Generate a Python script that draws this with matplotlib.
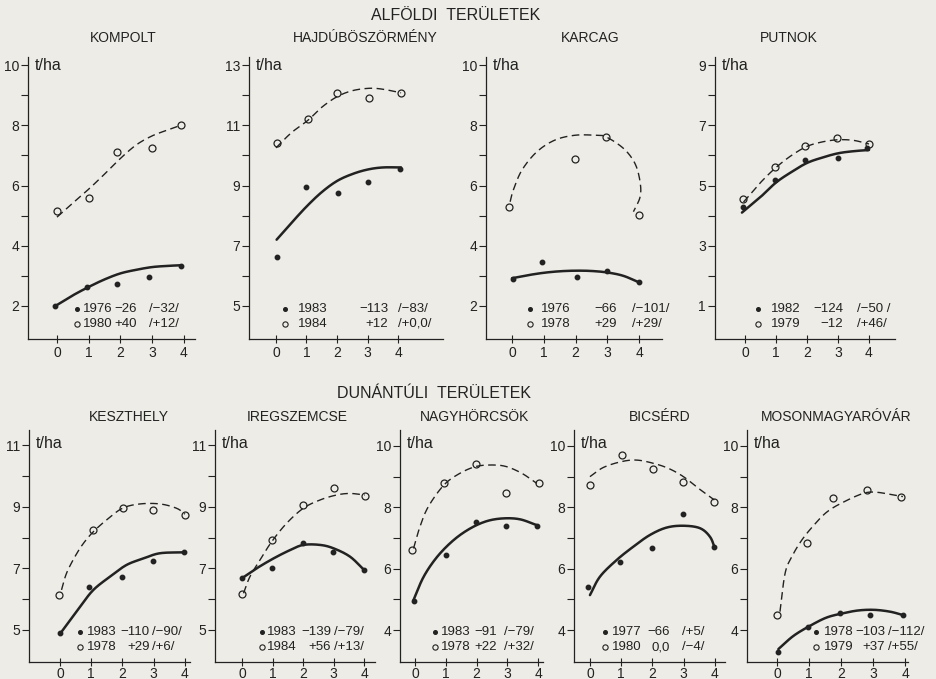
import numpy as np
import matplotlib
matplotlib.use("Agg")
import matplotlib.pyplot as plt

plt.rcParams['font.family'] = ['Liberation Sans', 'DejaVu Sans']

BG = '#edece6'
INK = '#222222'

# ------------------------------------------------------------------ data
section_titles = ["ALFÖLDI  TERÜLETEK", "DUNÁNTÚLI  TERÜLETEK"]
site_names = ["KOMPOLT", "HAJDÚBÖSZÖRMÉNY", "KARCAG", "PUTNOK",
              "KESZTHELY", "IREGSZEMCSE", "NAGYHÖRCSÖK", "BICSÉRD", "MOSONMAGYARÓVÁR"]
x_ticks = [0, 1, 2, 3, 4]
unit_label = "t/ha"

# y tick labels per site (labelled) and unlabelled ticks
yticks_major = {
    "KOMPOLT": [2, 4, 6, 8, 10], "HAJDÚBÖSZÖRMÉNY": [5, 7, 9, 11, 13],
    "KARCAG": [2, 4, 6, 8, 10], "PUTNOK": [1, 3, 5, 7, 9],
    "KESZTHELY": [5, 7, 9, 11], "IREGSZEMCSE": [5, 7, 9, 11],
    "NAGYHÖRCSÖK": [4, 6, 8, 10], "BICSÉRD": [4, 6, 8, 10], "MOSONMAGYARÓVÁR": [4, 6, 8, 10]}
yticks_minor = {
    "KOMPOLT": [3, 5, 7, 9], "HAJDÚBÖSZÖRMÉNY": [6, 8, 10, 12],
    "KARCAG": [3, 5, 7, 9], "PUTNOK": [2, 4, 6, 8],
    "KESZTHELY": [6, 8, 10], "IREGSZEMCSE": [6, 8, 10],
    "NAGYHÖRCSÖK": [5, 7, 9], "BICSÉRD": [5, 7, 9], "MOSONMAGYARÓVÁR": [5, 7, 9]}

# legend texts: (year, value, bracket) for filled (row 1) and open (row 2) series
kompolt_legend = [("1976", "−26", "/−32/"), ("1980", "+40", "/+12/")]
hajdu_legend = [("1983", "−113", "/−83/"), ("1984", "+12", "/+0,0/")]
karcag_legend = [("1976", "−66", "/−101/"), ("1978", "+29", "/+29/")]
putnok_legend = [("1982", "−124", "/−50 /"), ("1979", "−12", "/+46/")]
keszthely_legend = [("1983", "−110", "/−90/"), ("1978", "+29", "/+6/")]
ireg_legend = [("1983", "−139", "/−79/"), ("1984", "+56", "/+13/")]
nagy_legend = [("1983", "−91", "/−79/"), ("1978", "+22", "/+32/")]
bicserd_legend = [("1977", "−66", "/+5/"), ("1980", "0,0", "/−4/")]
moson_legend = [("1978", "−103", "/−112/"), ("1979", "+37", "/+55/")]

# KOMPOLT
kompolt_dot_x = [-0.05, 0.95, 1.9, 2.9, 3.9]
kompolt_dot_y = [2.0, 2.63, 2.73, 2.97, 3.33]
kompolt_circ_x = [0, 1.0, 1.9, 3.0, 3.9]
kompolt_circ_y = [5.15, 5.6, 7.1, 7.23, 8.0]
kompolt_solid_x = [0, 0.5, 1, 1.5, 2, 2.5, 3, 3.5, 3.9]
kompolt_solid_y = [2.03, 2.35, 2.63, 2.88, 3.08, 3.2, 3.29, 3.33, 3.35]
kompolt_dash_x = [0, 0.5, 1, 1.5, 2, 2.5, 3, 3.5, 3.9]
kompolt_dash_y = [4.95, 5.42, 5.88, 6.38, 6.9, 7.35, 7.65, 7.85, 8.0]

# HAJDÚBÖSZÖRMÉNY
hajdu_dot_x = [0.03, 1.0, 2.03, 3.0, 4.07]
hajdu_dot_y = [6.62, 8.95, 8.75, 9.11, 9.54]
hajdu_circ_x = [0.03, 1.05, 2.0, 3.05, 4.1]
hajdu_circ_y = [10.41, 11.21, 12.07, 11.9, 12.07]
hajdu_solid_x = [0.02, 0.5, 1.0, 1.5, 2.0, 2.5, 3.0, 3.5, 4.1]
hajdu_solid_y = [7.2, 7.75, 8.3, 8.78, 9.15, 9.38, 9.53, 9.6, 9.6]
hajdu_dash_x = [0, 0.5, 1.05, 1.5, 2.0, 2.5, 3.05, 3.5, 4.1]
hajdu_dash_y = [10.25, 10.75, 11.17, 11.6, 11.95, 12.15, 12.23, 12.2, 12.08]

# KARCAG
karcag_dot_x = [0.04, 0.94, 2.05, 2.99, 4.0]
karcag_dot_y = [2.91, 3.46, 2.96, 3.16, 2.79]
karcag_circ_x = [-0.1, 1.98, 2.96, 4.0]
karcag_circ_y = [5.27, 6.89, 7.62, 5.02]
karcag_solid_x = [0, 0.5, 1, 1.5, 2, 2.5, 3, 3.5, 4.0]
karcag_solid_y = [2.92, 3.02, 3.1, 3.15, 3.17, 3.16, 3.11, 3.0, 2.78]
karcag_dash_x = [-0.06, 0.04, 0.31, 0.78, 1.35, 1.98, 2.61, 2.95, 3.51, 3.87, 4.03, 4.03, 3.82]
karcag_dash_y = [5.46, 5.85, 6.51, 7.12, 7.51, 7.67, 7.67, 7.62, 7.23, 6.73, 6.12, 5.62, 5.13]

# PUTNOK
putnok_dot_x = [-0.06, 0.97, 1.94, 3.0, 3.94]
putnok_dot_y = [4.29, 5.18, 5.84, 5.9, 6.25]
putnok_circ_x = [-0.06, 0.97, 1.94, 2.97, 4.0]
putnok_circ_y = [4.55, 5.62, 6.32, 6.58, 6.38]
putnok_solid_x = [-0.1, 0.5, 1, 1.5, 2, 2.5, 3, 3.5, 4.0]
putnok_solid_y = [4.1, 4.62, 5.1, 5.45, 5.75, 5.93, 6.07, 6.14, 6.18]
putnok_dash_x = [-0.05, 0.5, 1, 1.5, 2, 2.5, 3, 3.5, 4.0]
putnok_dash_y = [4.45, 5.1, 5.6, 6.0, 6.3, 6.45, 6.52, 6.5, 6.38]

# KESZTHELY
keszthely_dot_x = [0, 0.93, 1.98, 2.98, 3.97]
keszthely_dot_y = [4.9, 6.4, 6.72, 7.24, 7.53]
keszthely_circ_x = [-0.03, 1.06, 2.02, 2.98, 4.0]
keszthely_circ_y = [6.13, 8.24, 8.96, 8.89, 8.73]
keszthely_solid_x = [0.05, 0.64, 1.07, 1.6, 2.13, 2.67, 3.2, 3.98]
keszthely_solid_y = [4.94, 5.75, 6.3, 6.73, 7.11, 7.32, 7.49, 7.52]
keszthely_dash_x = [0.05, 0.21, 0.48, 0.75, 1.07, 1.49, 2.0, 2.56, 3.2, 3.73, 4.0]
keszthely_dash_y = [6.3, 6.84, 7.38, 7.81, 8.19, 8.57, 8.95, 9.09, 9.09, 8.95, 8.76]

# IREGSZEMCSE
ireg_dot_x = [0, 0.97, 2.0, 2.97, 4.0]
ireg_dot_y = [6.68, 7.0, 7.81, 7.52, 6.95]
ireg_circ_x = [0, 0.97, 2.0, 3.0, 4.03]
ireg_circ_y = [6.16, 7.92, 9.05, 9.6, 9.36]
ireg_solid_x = [0, 0.48, 1.03, 1.57, 2.01, 2.56, 3.0, 3.54, 4.0]
ireg_solid_y = [6.68, 7.0, 7.32, 7.59, 7.76, 7.76, 7.65, 7.38, 6.95]
ireg_dash_x = [0.05, 0.26, 0.59, 0.97, 1.46, 2.01, 2.56, 3.1, 3.54, 4.03]
ireg_dash_y = [6.19, 6.73, 7.27, 7.86, 8.46, 8.95, 9.22, 9.38, 9.43, 9.38]

# NAGYHÖRCSÖK
nagy_dot_x = [-0.05, 1.0, 1.98, 2.96, 3.96]
nagy_dot_y = [4.95, 6.45, 7.53, 7.4, 7.4]
nagy_circ_x = [-0.1, 0.94, 1.98, 2.96, 4.04]
nagy_circ_y = [6.61, 8.8, 9.41, 8.46, 8.78]
nagy_solid_x = [-0.05, 0.28, 0.72, 1.25, 1.79, 2.33, 2.87, 3.41, 3.96]
nagy_solid_y = [4.98, 5.74, 6.39, 6.93, 7.31, 7.55, 7.64, 7.61, 7.42]
nagy_dash_x = [-0.05, 0.16, 0.43, 0.94, 1.46, 1.98, 2.49, 2.96, 3.47, 3.96]
nagy_dash_y = [6.66, 7.37, 8.02, 8.73, 9.11, 9.33, 9.38, 9.33, 9.11, 8.78]

# BICSÉRD
bicserd_dot_x = [-0.05, 0.96, 1.97, 2.99, 3.98]
bicserd_dot_y = [5.41, 6.23, 6.66, 7.78, 6.7]
bicserd_circ_x = [0, 1.01, 2.01, 2.99, 3.98]
bicserd_circ_y = [8.73, 9.71, 9.24, 8.84, 8.18]
bicserd_solid_x = [0, 0.32, 0.85, 1.39, 1.92, 2.45, 2.99, 3.52, 3.84, 4.0]
bicserd_solid_y = [5.14, 5.74, 6.28, 6.72, 7.1, 7.34, 7.4, 7.32, 7.04, 6.66]
bicserd_dash_x = [0, 0.43, 1.01, 1.49, 2.01, 2.51, 2.99, 3.47, 3.98]
bicserd_dash_y = [9.0, 9.3, 9.49, 9.54, 9.44, 9.27, 9.0, 8.62, 8.24]

# MOSONMAGYARÓVÁR
moson_dot_x = [0.04, 0.98, 1.97, 2.91, 3.93]
moson_dot_y = [3.29, 4.11, 4.55, 4.49, 4.49]
moson_circ_x = [0, 0.95, 1.76, 2.82, 3.87]
moson_circ_y = [4.49, 6.83, 8.29, 8.57, 8.35]
moson_solid_x = [0.04, 0.51, 1.03, 1.55, 2.07, 2.54, 3.03, 3.53, 3.93]
moson_solid_y = [3.38, 3.81, 4.14, 4.41, 4.55, 4.64, 4.66, 4.6, 4.49]
moson_dash_x = [0.09, 0.25, 0.46, 0.77, 1.15, 1.57, 2.09, 2.71, 3.12, 3.64, 3.93]
moson_dash_y = [4.6, 5.85, 6.39, 6.93, 7.42, 7.86, 8.18, 8.46, 8.49, 8.4, 8.35]

series = {
    "KOMPOLT": (kompolt_dot_x, kompolt_dot_y, kompolt_circ_x, kompolt_circ_y,
                kompolt_solid_x, kompolt_solid_y, kompolt_dash_x, kompolt_dash_y, kompolt_legend),
    "HAJDÚBÖSZÖRMÉNY": (hajdu_dot_x, hajdu_dot_y, hajdu_circ_x, hajdu_circ_y,
                        hajdu_solid_x, hajdu_solid_y, hajdu_dash_x, hajdu_dash_y, hajdu_legend),
    "KARCAG": (karcag_dot_x, karcag_dot_y, karcag_circ_x, karcag_circ_y,
               karcag_solid_x, karcag_solid_y, karcag_dash_x, karcag_dash_y, karcag_legend),
    "PUTNOK": (putnok_dot_x, putnok_dot_y, putnok_circ_x, putnok_circ_y,
               putnok_solid_x, putnok_solid_y, putnok_dash_x, putnok_dash_y, putnok_legend),
    "KESZTHELY": (keszthely_dot_x, keszthely_dot_y, keszthely_circ_x, keszthely_circ_y,
                  keszthely_solid_x, keszthely_solid_y, keszthely_dash_x, keszthely_dash_y, keszthely_legend),
    "IREGSZEMCSE": (ireg_dot_x, ireg_dot_y, ireg_circ_x, ireg_circ_y,
                    ireg_solid_x, ireg_solid_y, ireg_dash_x, ireg_dash_y, ireg_legend),
    "NAGYHÖRCSÖK": (nagy_dot_x, nagy_dot_y, nagy_circ_x, nagy_circ_y,
                    nagy_solid_x, nagy_solid_y, nagy_dash_x, nagy_dash_y, nagy_legend),
    "BICSÉRD": (bicserd_dot_x, bicserd_dot_y, bicserd_circ_x, bicserd_circ_y,
                bicserd_solid_x, bicserd_solid_y, bicserd_dash_x, bicserd_dash_y, bicserd_legend),
    "MOSONMAGYARÓVÁR": (moson_dot_x, moson_dot_y, moson_circ_x, moson_circ_y,
                        moson_solid_x, moson_solid_y, moson_dash_x, moson_dash_y, moson_legend),
}

# ------------------------------------------------------------------ layout (pixels)
W, H = 937, 679
# name: (left, right, top, bottom, xlim, ylim, title_x,
#        legend cols (bullet centre, year left, value right, bracket left))
layout = {
    "KOMPOLT": (28, 195, 57, 339, (-0.913, 4.35), (0.9, 10.27), 123, (77, 83, 137, 149)),
    "HAJDÚBÖSZÖRMÉNY": (249, 443, 57, 339, (-0.885, 5.475), (3.9, 13.27), 365, (285, 298, 388, 398)),
    "KARCAG": (486, 662, 57, 339, (-0.82, 4.72), (0.9, 10.27), 590, (530, 541, 617, 632)),
    "PUTNOK": (715, 895, 57, 339, (-0.97, 4.84), (-0.1, 9.27), 789, (758, 771, 843, 857)),
    "KESZTHELY": (29, 190, 430, 662, (-0.99, 4.16), (3.96, 11.49), 129, (80, 87, 150, 152)),
    "IREGSZEMCSE": (215, 375, 430, 662, (-0.885, 4.36), (3.96, 11.49), 297, (262, 267, 331, 334)),
    "NAGYHÖRCSÖK": (400, 543, 430, 662, (-0.49, 4.16), (2.96, 10.52), 475, (435, 441, 497, 504)),
    "BICSÉRD": (574, 725, 430, 662, (-0.51, 4.32), (2.96, 10.52), 660, (605, 612, 670, 682)),
    "MOSONMAGYARÓVÁR": (747, 908, 430, 662, (-0.94, 4.09), (2.96, 10.52), 836, (816, 824, 885, 888)),
}


def smooth(xs, ys, n=20):
    P = np.column_stack([xs, ys]).astype(float)
    P = np.vstack([2 * P[0] - P[1], P, 2 * P[-1] - P[-2]])
    t = np.linspace(0, 1, n, endpoint=False)[:, None]
    out = []
    for i in range(1, len(P) - 2):
        p0, p1, p2, p3 = P[i - 1], P[i], P[i + 1], P[i + 2]
        seg = 0.5 * ((2 * p1) + (-p0 + p2) * t + (2 * p0 - 5 * p1 + 4 * p2 - p3) * t ** 2
                     + (-p0 + 3 * p1 - 3 * p2 + p3) * t ** 3)
        out.append(seg)
    out.append(P[-2][None, :])
    A = np.vstack(out)
    return A[:, 0], A[:, 1]


fig = plt.figure(figsize=(W / 100, H / 100), dpi=100, facecolor=BG)

fig.text(456 / W, 1 - 15 / H, section_titles[0], ha='center', va='center',
         fontsize=11.5, color=INK)
fig.text(434 / W, 1 - 393 / H, section_titles[1], ha='center', va='center',
         fontsize=11.5, color=INK)

for name in site_names:
    l, r, t, b, xl, yl, tx, cols = layout[name]
    dx, dy, cx, cy, sx, sy, qx, qy, leg = series[name]
    top_row = t < 100
    ax = fig.add_axes([l / W, 1 - b / H, (r - l) / W, (b - t) / H])
    ax.patch.set_alpha(0)
    ax.set_xlim(*xl)
    ax.set_ylim(*yl)
    for s in ('top', 'right'):
        ax.spines[s].set_visible(False)
    for s in ('left', 'bottom'):
        ax.spines[s].set_color(INK)
        ax.spines[s].set_linewidth(0.9)
    ax.set_xticks(x_ticks)
    ax.set_xticklabels([str(v) for v in x_ticks])
    ax.set_yticks(yticks_major[name])
    ax.set_yticklabels([str(v) for v in yticks_major[name]])
    ax.set_yticks(yticks_minor[name], minor=True)
    ax.tick_params(axis='x', direction='inout', length=6, width=0.8, colors=INK,
                   labelsize=10, pad=2 if top_row else 0.3)
    ax.tick_params(axis='y', which='both', direction='out', length=5, width=0.8,
                   colors=INK, labelsize=10, pad=1.5)

    # curves
    X, Y = smooth(sx, sy)
    ax.plot(X, Y, color=INK, lw=1.8, solid_capstyle='round', zorder=3)
    X, Y = smooth(qx, qy)
    ax.plot(X, Y, color=INK, lw=1.0, dashes=(5.5, 3.2), zorder=3)
    # observations
    ax.plot(dx, dy, 'o', ms=3.2, color=INK, mec=INK, zorder=4, clip_on=False)
    ax.plot(cx, cy, 'o', ms=5, mfc='none', mec=INK, mew=0.9, zorder=4, clip_on=False)

    # unit label
    wpx, hpx = r - l, b - t
    ypx_unit = 65 if top_row else 444
    ax.text(7 / wpx, (b - ypx_unit) / hpx, unit_label, transform=ax.transAxes,
            ha='left', va='center', fontsize=11.5, color=INK)

    # legend rows
    rows = (309, 324) if top_row else (632, 647)
    for k, (yr, val, br) in enumerate(leg):
        fy = (b - rows[k]) / hpx
        if k == 0:
            ax.plot([(cols[0] - l) / wpx], [fy], 'o', ms=2.6, color=INK,
                    transform=ax.transAxes, clip_on=False)
        else:
            ax.plot([(cols[0] - l) / wpx], [fy], 'o', ms=3.8, mfc='none', mec=INK,
                    mew=0.8, transform=ax.transAxes, clip_on=False)
        ax.text((cols[1] - l) / wpx, fy, yr, transform=ax.transAxes, ha='left',
                va='center', fontsize=9.5, color=INK)
        ax.text((cols[2] - l) / wpx, fy, val, transform=ax.transAxes, ha='right',
                va='center', fontsize=9.5, color=INK)
        ax.text((cols[3] - l) / wpx, fy, br, transform=ax.transAxes, ha='left',
                va='center', fontsize=9.5, color=INK)

    # site title
    ty = 38 if top_row else 417
    fig.text(tx / W, 1 - ty / H, name, ha='center', va='center', fontsize=10, color=INK)

fig.savefig("out.png", dpi=100, facecolor=BG)
